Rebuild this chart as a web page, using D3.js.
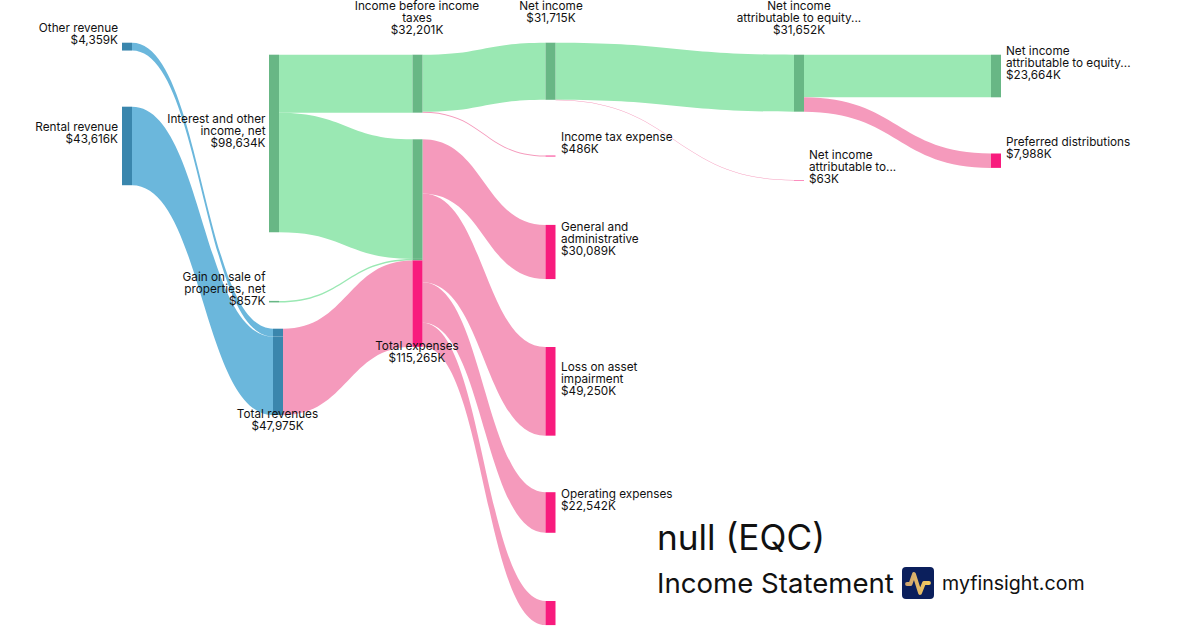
<!DOCTYPE html>
<html><head><meta charset="utf-8">
<script src="https://cdn.jsdelivr.net/npm/d3@7"></script>
<style>html,body{margin:0;background:#fff}svg{display:block}text{font-family:Inter,sans-serif;fill:#111}</style>
</head><body><div id="c"></div>
<script>
// ---------- data ----------
const nodeNames = ["Other revenue","Rental revenue","Interest and other income, net","Gain on sale of properties, net","Total revenues","Income before income taxes","Total expenses","Net income","Income tax expense","General and administrative","Loss on asset impairment","Operating expenses","Unlabeled expense","Net income attributable to equity (a)","Net income attributable to other","Net income attributable to equity (b)","Preferred distributions"];
const nodeValues = [4359,43616,98634,857,47975,32201,115265,31715,486,30089,49250,22542,13384,31652,63,23664,7988];
const linkSources = ["Other revenue","Rental revenue","Interest and other income, net","Interest and other income, net","Gain on sale of properties, net","Total revenues","Income before income taxes","Income before income taxes","Total expenses","Total expenses","Total expenses","Total expenses","Net income","Net income","Net income attributable to equity (a)","Net income attributable to equity (a)"];
const linkTargets = ["Total revenues","Total revenues","Income before income taxes","Total expenses","Total expenses","Total expenses","Net income","Income tax expense","General and administrative","Loss on asset impairment","Operating expenses","Unlabeled expense","Net income attributable to equity (a)","Net income attributable to other","Net income attributable to equity (b)","Preferred distributions"];
const linkValues = [4359,43616,32201,66433,857,47975,31715,486,30089,49250,22542,13384,31652,63,23664,7988];
const linkKinds = ["revenue","revenue","profit","profit","profit","expense","profit","expense","expense","expense","expense","expense","profit","expense","profit","expense"];
const labelTexts = [["Other revenue","$4,359K"],["Rental revenue","$43,616K"],["Interest and other","income, net","$98,634K"],["Gain on sale of","properties, net","$857K"],["Total revenues","$47,975K"],["Income before income","taxes","$32,201K"],["Total expenses","$115,265K"],["Net income","$31,715K"],["Income tax expense","$486K"],["General and","administrative","$30,089K"],["Loss on asset","impairment","$49,250K"],["Operating expenses","$22,542K"],[],["Net income","attributable to equity...","$31,652K"],["Net income","attributable to...","$63K"],["Net income","attributable to equity...","$23,664K"],["Preferred distributions","$7,988K"]];
const titleText = "null (EQC)", subtitleText = "Income Statement", brandText = "myfinsight.com";

// ---------- layout (separate from the data) ----------
const W = 1200, H = 630, nodeWidth = 10;
const nodeLeft = [122,122,269,269,273,412.5,412.5,545.5,545.5,545.5,545.5,545.5,545.5,794,794,991,991];
const nodeTop  = [42.7,106.7,54.7,300.9,328.7,54.7,139.3,42.7,155.6,224.9,347,492.2,601,54.7,180,54.7,153.5];
const labelAnchor = ["end","end","end","end","middle","middle","middle","middle","start","start","start","start","start","middle","start","start","start"];
const labelX = [118,118,265.5,265.5,277.5,417,417,551,561,561,561,561,561,799,809,1006,1006];
const labelY = [27.7,127,119,276.7,413.7,6,345.7,6,137,227,366.7,494,0,6,155,51,141.7];

const colors = {
  link: {revenue:"#6bb7dc", profit:"#9ae8b3", expense:"#f59abc"},
  node: {revenue:"#3a86ad", profit:"#68b785", expense:"#f81b7d"}
};

// ---------- scales ----------
const xPos = d3.scaleOrdinal().domain(nodeNames).range(nodeLeft);
const yTop = d3.scaleOrdinal().domain(nodeNames).range(nodeTop);
const thick = d3.scaleLinear().domain([0,115265]).range([0,207.5]);
const band = d3.area().x(d=>d.x).y0(d=>d.y0).y1(d=>d.y1).curve(d3.curveBumpX);

// ---------- layout computation ----------
const links = linkValues.map((v,i)=>({source:linkSources[i],target:linkTargets[i],value:v,kind:linkKinds[i]}));
const used = {out:{},in:{}};
links.forEach(l=>{
  const h = thick(l.value);
  const so = used.out[l.source]||0, to = used.in[l.target]||0;
  l.h=h; l.sy=yTop(l.source)+so; l.ty=yTop(l.target)+to;
  used.out[l.source]=so+h; used.in[l.target]=to+h;
});

const svg = d3.select("#c").append("svg").attr("width",W).attr("height",H);

// links
svg.append("g").selectAll("path").data(links).join("path")
  .attr("d",l=>{
    const h=Math.max(l.h,0.5);
    return band([
      {x:xPos(l.source)+nodeWidth,y0:l.sy,y1:l.sy+h},
      {x:xPos(l.target),y0:l.ty,y1:l.ty+h}]);
  })
  .attr("fill",l=>colors.link[l.kind]);

// nodes: one segment per incoming link, or one block when there is none
const segs=[];
nodeNames.forEach((n,i)=>{
  const inc=links.filter(l=>l.target===n);
  if(inc.length) inc.forEach(l=>segs.push({x:xPos(n),y:l.ty,h:Math.max(l.h,0.5),kind:l.kind}));
  else {
    const k=links.find(l=>l.source===n).kind;
    segs.push({x:xPos(n),y:yTop(n),h:Math.max(thick(nodeValues[i]),0.5),kind:k});
  }
});
svg.append("g").selectAll("rect").data(segs).join("rect")
  .attr("x",d=>d.x).attr("y",d=>d.y).attr("width",nodeWidth).attr("height",d=>d.h)
  .attr("fill",d=>colors.node[d.kind]);

// labels
const lab=svg.append("g").attr("font-size",11.75);
nodeNames.forEach((n,i)=>{
  labelTexts[i].forEach((t,j)=>{
    lab.append("text").attr("x",labelX[i]).attr("y",labelY[i]+j*12).attr("dy","0.35em")
      .attr("text-anchor",labelAnchor[i]).text(t);
  });
});

// title block
svg.append("text").attr("x",657).attr("y",550).attr("font-size",35.2).text(titleText);
svg.append("text").attr("x",657).attr("y",593).attr("font-size",27.6).text(subtitleText);
svg.append("text").attr("x",942).attr("y",590).attr("font-size",19.6).text(brandText);
const logo=svg.append("g").attr("transform","translate(902,567)");
logo.append("rect").attr("width",32).attr("height",32).attr("rx",4).attr("fill","#0b1f5c");
const grad=svg.append("defs").append("linearGradient").attr("id","lg");
grad.append("stop").attr("offset","0").attr("stop-color","#cfa56f");
grad.append("stop").attr("offset","1").attr("stop-color","#f5cb5f");
logo.append("path").attr("d",d3.line()([[5,17],[8.5,17],[12,7],[18,26],[22,16],[27,16]]))
  .attr("fill","none").attr("stroke","url(#lg)").attr("stroke-width",3.8).attr("stroke-linecap","round").attr("stroke-linejoin","round");
</script></body></html>
